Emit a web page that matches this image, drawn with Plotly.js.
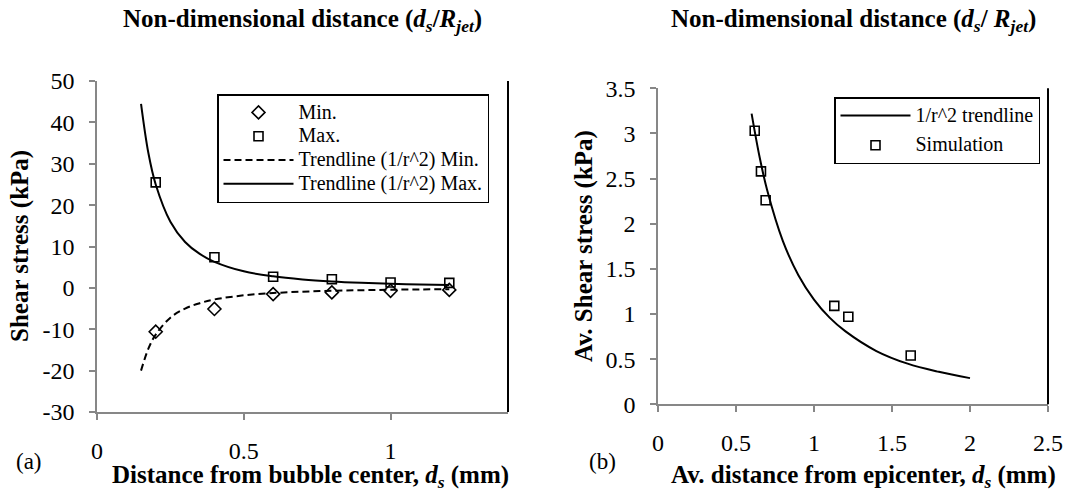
<!DOCTYPE html>
<html>
<head>
<meta charset="utf-8">
<script src="https://cdn.plot.ly/plotly-3.0.1.min.js"></script>
<style>
  html, body { margin: 0; padding: 0; background: #fff; }
  #chart { width: 1091px; height: 495px; }
</style>
</head>
<body>
<div id="chart"></div>
<script>
// ---- (a) shear stress vs. distance from the bubble centre ----
const distA     = [0.2, 0.4, 0.6, 0.8, 1.0, 1.2];
const minStress = [-10.6, -5.1, -1.5, -1.1, -0.7, -0.5];
const maxStress = [25.5, 7.4, 2.7, 2.1, 1.3, 1.2];
const trendAX   = [0.15, 0.175, 0.2, 0.25, 0.3, 0.35, 0.4, 0.5, 0.6, 0.7, 0.8, 0.9, 1.0, 1.1, 1.2];
const trendMin  = [-20, -14.7, -11.3, -7.2, -5.0, -3.7, -2.8, -1.8, -1.25, -0.92, -0.7, -0.56, -0.45, -0.37, -0.31];
const trendMax  = [44.5, 32.6, 25.0, 16.0, 11.1, 8.2, 6.3, 4.0, 2.8, 2.05, 1.56, 1.23, 1.0, 0.83, 0.69];
const ticksAX    = [0, 0.5, 1];
const ticksAXTop = [0, 5, 10];
const ticksAY    = [-30, -20, -10, 0, 10, 20, 30, 40, 50];

// ---- (b) averaged shear stress vs. distance from the epicentre ----
const distB     = [0.62, 0.66, 0.69, 1.13, 1.22, 1.62];
const avgStress = [3.03, 2.58, 2.26, 1.09, 0.97, 0.54];
const trendBX   = [0.6, 0.65, 0.7, 0.8, 0.9, 1.0, 1.1, 1.2, 1.4, 1.6, 1.8, 2.0];
const trendBY   = [3.22, 2.75, 2.37, 1.81, 1.43, 1.16, 0.96, 0.81, 0.59, 0.45, 0.36, 0.29];
const ticksBX    = [0, 0.5, 1, 1.5, 2, 2.5];
const ticksBXTop = [0, 5, 10, 15, 20, 25];
const ticksBY    = [0, 0.5, 1, 1.5, 2, 2.5, 3, 3.5];

const W = 1091, H = 495;
const px = v => v / W;
const py = v => (H - v) / H;

const SERIF = 'Liberation Serif';
const AXIS_GRAY = '#878787';

function axis(extra) {
  return Object.assign({
    showgrid: false, zeroline: false, showline: true,
    linecolor: AXIS_GRAY, linewidth: 1.5,
    ticks: 'outside', ticklen: 6, tickwidth: 1.5, tickcolor: AXIS_GRAY,
    ticklabelstandoff: 10,
    tickfont: { family: SERIF, size: 24, color: '#000' },
    automargin: false, fixedrange: true
  }, extra);
}

// legend entries: compact rows, larger lettering
const entry = t => '<span style="font-size:20px">' + t + '</span>';

const traces = [
  { x: trendAX, y: trendMin, xaxis: 'x', yaxis: 'y', mode: 'lines', name: entry('Trendline (1/r^2) Min.'),
    line: { color: '#000', width: 2, dash: '7px,4px', shape: 'spline', smoothing: 1 },
    legend: 'legend', legendrank: 3 },
  { x: trendAX, y: trendMax, xaxis: 'x', yaxis: 'y', mode: 'lines', name: entry('Trendline (1/r^2) Max.'),
    line: { color: '#000', width: 2, shape: 'spline', smoothing: 1 },
    legend: 'legend', legendrank: 4 },
  { x: distA, y: minStress, xaxis: 'x', yaxis: 'y', mode: 'markers', name: entry('Min.'),
    marker: { symbol: 'diamond-open', size: 10, color: '#000', line: { width: 1.6, color: '#000' } },
    legend: 'legend', legendrank: 1 },
  { x: distA, y: maxStress, xaxis: 'x', yaxis: 'y', mode: 'markers', name: entry('Max.'),
    marker: { symbol: 'square-open', size: 9, color: '#000', line: { width: 1.6, color: '#000' } },
    legend: 'legend', legendrank: 2 },

  { x: trendBX, y: trendBY, xaxis: 'x3', yaxis: 'y3', mode: 'lines', name: entry('1/r^2 trendline'),
    line: { color: '#000', width: 2, shape: 'spline', smoothing: 1 },
    legend: 'legend2', legendrank: 1, legendgroup: 'g1' },
  { x: distB, y: avgStress, xaxis: 'x3', yaxis: 'y3', mode: 'markers', name: entry('Simulation'),
    marker: { symbol: 'square-open', size: 9, color: '#000', line: { width: 1.6, color: '#000' } },
    legend: 'legend2', legendrank: 2, legendgroup: 'g2' }
];

const domAX = [px(97), px(508)], domAY = [py(412), py(81)];
const domBX = [px(658), px(1048)], domBY = [py(404.3), py(88.3)];

const titleFont = { family: SERIF, size: 25, color: '#000' };

function label(text, x, y, extra) {
  return Object.assign({
    text: text, xref: 'paper', yref: 'paper', x: px(x), y: py(y),
    xanchor: 'center', yanchor: 'middle', showarrow: false, font: titleFont
  }, extra || {});
}

const legendBase = {
  xanchor: 'left', yanchor: 'top',
  bgcolor: '#fff', bordercolor: '#000', borderwidth: 1.5,
  font: { family: SERIF, size: 16, color: '#000' },
  itemwidth: 70
};

const layout = {
  width: W, height: H,
  margin: { l: 0, r: 0, t: 0, b: 0 },
  paper_bgcolor: '#fff', plot_bgcolor: '#fff',
  font: { family: SERIF, size: 24, color: '#000' },
  showlegend: true,
  xaxis:  axis({ domain: domAX, anchor: 'y', range: [0, 1.4], tickvals: ticksAX, ticktext: ticksAX.map(String) }),
  xaxis2: axis({ domain: domAX, anchor: 'y', overlaying: 'x', side: 'top', range: [0, 14],
                 tickvals: ticksAXTop, ticktext: ticksAXTop.map(String) }),
  yaxis:  axis({ domain: domAY, anchor: 'x', range: [-30, 50], tickvals: ticksAY, ticktext: ticksAY.map(String) }),
  xaxis3: axis({ domain: domBX, anchor: 'y3', range: [0, 2.5], tickvals: ticksBX, ticktext: ticksBX.map(String) }),
  xaxis4: axis({ domain: domBX, anchor: 'y3', overlaying: 'x3', side: 'top', range: [0, 25],
                 tickvals: ticksBXTop, ticktext: ticksBXTop.map(String) }),
  yaxis3: axis({ domain: domBY, anchor: 'x3', range: [0, 3.5], tickvals: ticksBY, ticktext: ticksBY.map(String) }),
  legend:  Object.assign({ x: px(217), y: py(94), tracegroupgap: 0, traceorder: 'normal' }, legendBase),
  legend2: Object.assign({ x: px(834), y: py(97), tracegroupgap: 6, traceorder: 'grouped' }, legendBase),
  shapes: [
    { type: 'line', xref: 'x domain', yref: 'y domain', x0: 1, x1: 1, y0: 0, y1: 1,
      line: { color: '#000', width: 2 } },
    { type: 'line', xref: 'x3 domain', yref: 'y3 domain', x0: 1, x1: 1, y0: 0, y1: 1,
      line: { color: '#000', width: 2 } }
  ],
  annotations: [
    label('<b>Non-dimensional distance (<i>d<sub>s</sub></i>/<i>R<sub>jet</sub></i>)</b>', 302, 20),
    label('<b>Distance from bubble center, <i>d<sub>s</sub></i> (mm)</b>', 310, 476),
    label('<b>Shear stress (kPa)</b>', 20, 246, { textangle: -90 }),
    label('(a)', 29, 461, { font: { family: SERIF, size: 23, color: '#000' } }),

    label('<b>Non-dimensional distance (<i>d<sub>s</sub></i>/ <i>R<sub>jet</sub></i>)</b>', 853, 20),
    label('<b>Av. distance from epicenter, <i>d<sub>s</sub></i> (mm)</b>', 863, 476),
    label('<b>Av. Shear stress (kPa)</b>', 584, 246, { textangle: -90 }),
    label('(b)', 602, 461, { font: { family: SERIF, size: 23, color: '#000' } })
  ]
};

Plotly.newPlot('chart', traces, layout, { displayModeBar: false });
</script>
</body>
</html>
